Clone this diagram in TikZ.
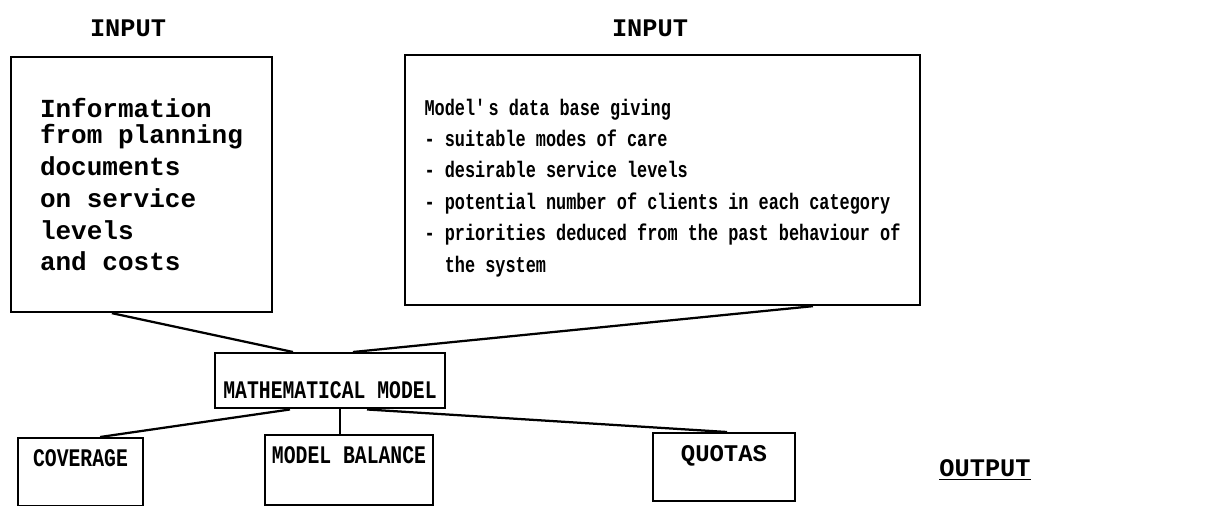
\documentclass[tikz,border=0pt]{standalone}
\usepackage{fontspec}
\usepackage{tikz}
\newfontfamily\typefont[WordSpace={1,0,0}]{Liberation Mono}
\newfontfamily\narrowtype[FakeStretch=0.75,WordSpace={1,0,0}]{Liberation Mono}
\newfontfamily\captype[FakeStretch=0.78,WordSpace={1,0,0}]{Liberation Mono}
\tikzstyle{inbox}=[draw,rectangle,line width=1.6pt,align=left,inner sep=0pt]
\tikzstyle{capbox}=[draw,rectangle,line width=1.6pt,anchor=north,inner sep=0pt,text height=0.7cm,text depth=1cm,font=\captype\bfseries\fontsize{18}{20}\selectfont]
\tikzstyle{heading}=[font=\typefont\bfseries\fontsize{18}{20}\selectfont]
\tikzstyle{link}=[line width=1.6pt]

\begin{document}
\begin{tikzpicture}[x=0.025cm,y=-0.025cm]
                  \useasboundingbox (0,0) rectangle (1232,506);

                  \node (inleft) at (128,28) [heading] {INPUT};
                  \node (inright) at (650,28) [heading] {INPUT};
                  \node (output) at (985,470) [heading] {\underline{OUTPUT}};

                  \node (plan) at (141.5,184.5) [inbox,minimum width=6.525cm,minimum height=6.375cm,font=\typefont\bfseries\fontsize{18.5}{22.7}\selectfont] {Information\\[-4pt] from planning\\ documents\\ on service\\ levels\\ and costs};
                  \node (base) at (662.5,180) [inbox,minimum width=12.875cm,minimum height=6.25cm,font=\narrowtype\bfseries\fontsize{16}{22.3}\selectfont] {\rule{0pt}{0.8cm}Model\textquotesingle s data base giving\\ - suitable modes of care\\ - desirable service levels\\ - potential number of clients in each category\\ - priorities deduced from the past behaviour of\\ \phantom{- }the system};

                  \node (model) at (330,352) [capbox,minimum width=5.75cm,text height=1.14cm,text depth=0.24cm] {MATHEMATICAL MODEL};

                  \node (cover) at (80.5,437) [capbox,minimum width=3.125cm] {COVERAGE};
                  \node (balance) at (349,434) [capbox,minimum width=4.2cm,text depth=1.05cm] {MODEL BALANCE};
                  \node (quota) at (724,432) [capbox,minimum width=3.55cm,font=\typefont\bfseries\fontsize{17}{20}\selectfont] {QUOTAS};

                  \draw [link] ([xshift=-0.74cm]plan.south) -- ([xshift=-0.925cm]model.north);
                  \draw [link] ([xshift=3.76cm]base.south) -- ([xshift=0.575cm]model.north);

                  \draw [link] ([xshift=-1cm]model.south) -- ([xshift=0.49cm]cover.north);
                  \draw [link] ([xshift=0.25cm]model.south) -- ([xshift=0.25cm]model.south |- balance.north);
                  \draw [link] ([xshift=0.925cm]model.south) -- ([xshift=0.075cm]quota.north);
              \end{tikzpicture}
\end{document}
